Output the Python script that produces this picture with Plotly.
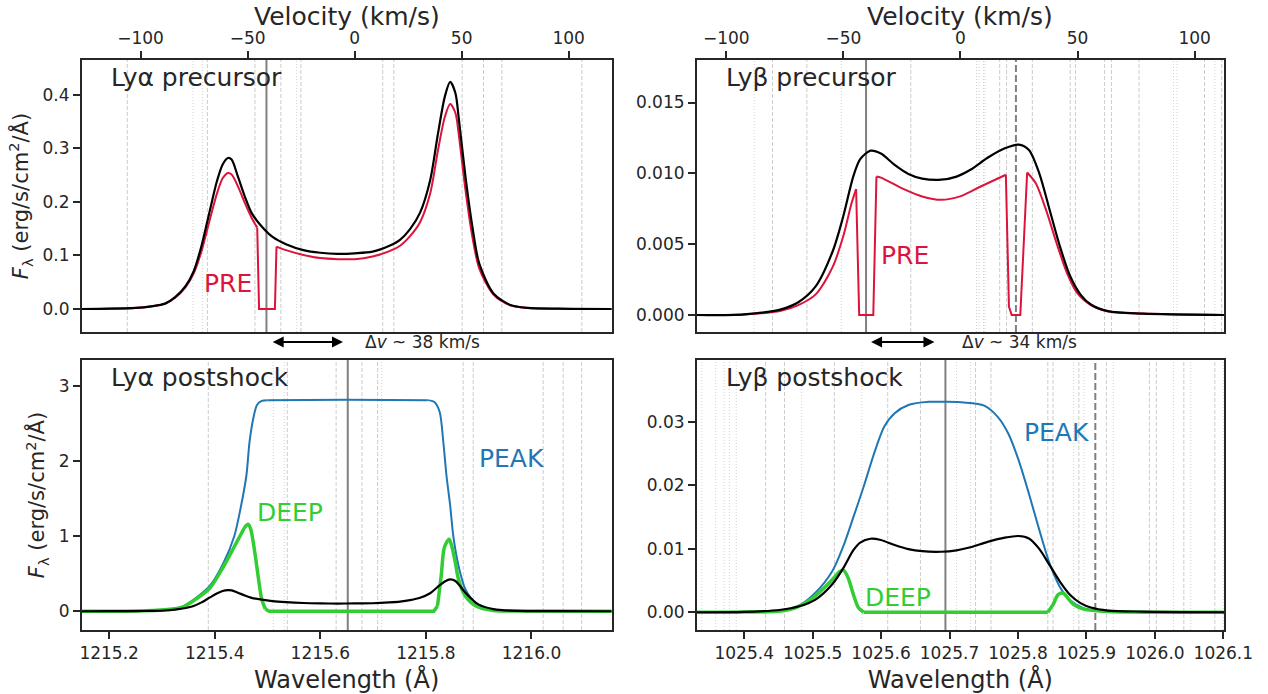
import plotly.graph_objects as go

C_KMS = 299792.458
LYA_REST = 1215.665
LYB_REST = 1025.716
LYA_XRANGE = [1215.148, 1216.152]
LYB_XRANGE = [1025.3306, 1026.101]

# ---- Lyα profiles -------------------------------------------------------
lya_total_wl = [1215.148, 1215.20, 1215.25, 1215.28, 1215.306, 1215.325, 1215.345, 1215.360,
                1215.375, 1215.391, 1215.404, 1215.415, 1215.425, 1215.432, 1215.444, 1215.457,
                1215.470, 1215.489, 1215.509, 1215.535, 1215.568, 1215.600, 1215.633, 1215.665,
                1215.699, 1215.731, 1215.751, 1215.770, 1215.789, 1215.808, 1215.823, 1215.836,
                1215.846, 1215.856, 1215.862, 1215.875, 1215.888, 1215.901, 1215.928, 1215.960,
                1215.993, 1216.05, 1216.152]
lya_total_flux = [0.0, 0.0005, 0.002, 0.005, 0.010, 0.022, 0.043, 0.070, 0.118, 0.185, 0.238,
                  0.270, 0.282, 0.279, 0.247, 0.210, 0.179, 0.154, 0.135, 0.121, 0.110, 0.105,
                  0.103, 0.104, 0.107, 0.118, 0.129, 0.149, 0.180, 0.240, 0.328, 0.397, 0.424,
                  0.403, 0.359, 0.247, 0.154, 0.085, 0.029, 0.0075, 0.002, 0.0005, 0.0]

lya_pre_wl = [1215.148, 1215.20, 1215.25, 1215.28, 1215.306, 1215.325, 1215.345, 1215.360,
              1215.375, 1215.391, 1215.404, 1215.415, 1215.425, 1215.432, 1215.444, 1215.457,
              1215.470, 1215.4805, 1215.4840, 1215.5140, 1215.5170, 1215.535, 1215.568, 1215.600,
              1215.633, 1215.665, 1215.699, 1215.731, 1215.751, 1215.770, 1215.789, 1215.808,
              1215.823, 1215.836, 1215.846, 1215.856, 1215.862, 1215.875, 1215.888, 1215.901,
              1215.928, 1215.960, 1215.993, 1216.05, 1216.152]
lya_pre_flux = [0.0, 0.0005, 0.002, 0.005, 0.010, 0.021, 0.041, 0.066, 0.108, 0.168, 0.215,
                0.244, 0.254, 0.251, 0.229, 0.198, 0.170, 0.152, 0.0, 0.0, 0.1165, 0.110, 0.101,
                0.095, 0.093, 0.093, 0.098, 0.108, 0.118, 0.136, 0.162, 0.215, 0.297, 0.359,
                0.383, 0.366, 0.328, 0.222, 0.135, 0.076, 0.027, 0.007, 0.002, 0.0005, 0.0]

lya_peak_wl = [1215.148, 1215.25, 1215.306, 1215.339, 1215.365, 1215.391, 1215.417, 1215.437,
               1215.450, 1215.460, 1215.466, 1215.473, 1215.480, 1215.489, 1215.500, 1215.650,
               1215.803, 1215.816, 1215.826, 1215.833, 1215.839, 1215.846, 1215.852, 1215.862,
               1215.875, 1215.895, 1215.928, 1215.98, 1216.152]
lya_peak_flux = [0.0, 0.003, 0.02, 0.06, 0.18, 0.34, 0.65, 1.0, 1.41, 1.81, 2.26, 2.57, 2.75,
                 2.805, 2.815, 2.82, 2.815, 2.79, 2.66, 2.26, 1.81, 1.41, 1.0, 0.60, 0.29, 0.11,
                 0.025, 0.004, 0.0]

lya_deep_wl = [1215.148, 1215.25, 1215.306, 1215.339, 1215.365, 1215.391, 1215.417, 1215.437,
               1215.450, 1215.457, 1215.463, 1215.468, 1215.476, 1215.483, 1215.489, 1215.496,
               1215.503, 1215.815, 1215.822, 1215.829, 1215.835, 1215.844, 1215.849, 1215.856,
               1215.862, 1215.875, 1215.895, 1215.928, 1215.98, 1216.152]
lya_deep_flux = [0.0, 0.003, 0.02, 0.055, 0.165, 0.31, 0.60, 0.86, 1.03, 1.12, 1.16, 1.10, 0.78,
                 0.43, 0.16, 0.03, 0.0, 0.0, 0.07, 0.47, 0.85, 0.96, 0.87, 0.64, 0.42, 0.20, 0.07,
                 0.01, 0.002, 0.0]

# ---- Lyβ profiles -------------------------------------------------------
lyb_total_wl = [1025.3306, 1025.40, 1025.4538, 1025.4790, 1025.5041, 1025.5293, 1025.5444,
                1025.5595, 1025.5695, 1025.5846, 1025.5997, 1025.6198, 1025.6399, 1025.6600,
                1025.6877, 1025.7103, 1025.7305, 1025.7556, 1025.7808, 1025.8009, 1025.8160,
                1025.8311, 1025.8462, 1025.8612, 1025.8763, 1025.8914, 1025.9065, 1025.9316,
                1025.9819, 1026.101]
lyb_total_flux = [0.0, 0.00005, 0.0004, 0.0009, 0.0020, 0.0045, 0.0069, 0.0098, 0.0110, 0.0116,
                  0.0114, 0.0106, 0.00996, 0.00963, 0.00955, 0.00977, 0.01025, 0.0111, 0.01177,
                  0.01203, 0.01165, 0.0100, 0.00743, 0.00485, 0.00273, 0.00144, 0.00074,
                  0.00027, 0.0001, 0.0]

lyb_pre_wl = [1025.3306, 1025.40, 1025.4538, 1025.4790, 1025.5041, 1025.5293, 1025.5444,
              1025.5569, 1025.5635, 1025.5680, 1025.5886, 1025.5932, 1025.5997, 1025.6299,
              1025.6600, 1025.6877, 1025.7154, 1025.7455, 1025.7823, 1025.7868, 1025.7908,
              1025.8034, 1025.8134, 1025.8260, 1025.8411, 1025.8562, 1025.8713, 1025.8864,
              1025.9065, 1025.9316, 1025.9819, 1026.101]
lyb_pre_flux = [0.0, 0.00004, 0.0003, 0.0007, 0.00144, 0.0034, 0.0055, 0.0079, 0.00889, 0.0,
                0.0, 0.00977, 0.0097, 0.00896, 0.00837, 0.00813, 0.00837, 0.00907, 0.0099,
                0.0006, 0.0, 0.0, 0.01006, 0.0093, 0.0074, 0.0051, 0.0030, 0.00156, 0.0007,
                0.00025, 0.0001, 0.0]

lyb_peak_wl = [1025.3306, 1025.40, 1025.4538, 1025.4790, 1025.5041, 1025.5293, 1025.5444,
               1025.5595, 1025.5745, 1025.5896, 1025.6047, 1025.6198, 1025.6399, 1025.6701,
               1025.6952, 1025.7204, 1025.7506, 1025.7707, 1025.7858, 1025.8009, 1025.8160,
               1025.8311, 1025.8462, 1025.8612, 1025.8763, 1025.8964, 1025.9316, 1025.98,
               1026.101]
lyb_peak_flux = [0.0, 0.00003, 0.0002, 0.001, 0.0031, 0.0066, 0.0103, 0.0150, 0.0198, 0.0250,
                 0.0293, 0.0314, 0.0327, 0.0332, 0.0332, 0.0331, 0.0326, 0.0308, 0.0282, 0.0240,
                 0.0187, 0.0130, 0.0077, 0.0040, 0.0019, 0.0006, 0.0001, 0.00002, 0.0]

lyb_deep_wl = [1025.3306, 1025.40, 1025.4538, 1025.4790, 1025.5041, 1025.5293, 1025.5393,
               1025.5453, 1025.5519, 1025.5595, 1025.5670, 1025.5745, 1025.8436, 1025.8512,
               1025.8587, 1025.8663, 1025.8738, 1025.8814, 1025.8964, 1025.9316, 1025.98,
               1026.101]
lyb_deep_flux = [0.0, 0.00003, 0.0002, 0.0009, 0.0026, 0.0052, 0.0064, 0.0066, 0.0054, 0.0028,
                 0.0007, 0.0, 0.0, 0.0012, 0.0028, 0.0030, 0.0021, 0.0012, 0.0005, 0.0001,
                 0.00002, 0.0]

# ---- reference line positions (Å) ---------------------------------------
lya_pre_dashed = [1215.2344, 1215.3861, 1215.4762, 1215.5253, 1215.5633, 1215.7183, 1215.7393,
                  1215.8687, 1215.9092, 1215.9439, 1216.0955]
lya_pre_dotted = [1215.3586, 1215.3770, 1215.5548]
lya_post_dashed = [1215.3878, 1215.5374, 1215.6300, 1215.6789, 1215.7086, 1215.8707, 1215.8897,
                   1216.0222, 1216.0601, 1216.0950]
lya_post_dotted = [1215.5109, 1215.5317, 1215.7162]
lyb_pre_dashed = [1025.4413, 1025.4916, 1025.6434, 1025.7733, 1025.7833, 1025.8210, 1025.8763,
                  1025.8839, 1025.9266, 1025.9367, 1025.9769, 1026.0725, 1026.0976]
lyb_pre_dotted = [1025.4146, 1025.5418, 1025.7395, 1025.7430, 1025.7496, 1025.7516, 1026.0272,
                  1026.0323, 1026.0876]
lyb_post_dashed = [1025.4312, 1025.4589, 1025.5318, 1025.6097, 1025.6575, 1025.7380, 1025.7606,
                   1025.8436, 1025.8512, 1025.8889, 1025.9292, 1025.9920, 1026.0021, 1026.0423,
                   1026.0876]
lyb_post_dotted = [1025.3381, 1025.3583, 1025.3708, 1025.3784, 1025.3884, 1025.4840, 1025.5720,
                   1025.7103, 1025.7305, 1025.8814, 1025.8964, 1025.9392, 1026.0272, 1026.0524,
                   1026.1001]

lya_pre_marker = 1215.498
lyb_pre_marker = 1025.578
lyb_pre_dashmark = 1025.797
lya_post_marker = 1215.652
lyb_post_marker = 1025.694
lyb_post_dashmark = 1025.913

lya_arrow = [1215.507, 1215.643]
lyb_arrow = [1025.5832, 1025.6779]

vel_ticks = [-100, -50, 0, 50, 100]
vel_ticktext = ["\u2212100", "\u221250", "0", "50", "100"]

BLACK = "#000000"
RED = "#dc143c"
BLUE = "#1f77b4"
GREEN = "#32cd32"
INK = "#262626"
FONT = "DejaVu Sans"


def to_vel(wl_range, rest):
    return [(w - rest) / rest * C_KMS for w in wl_range]


fig = go.Figure()


def add_profile(xs, ys, color, width, xa, ya, straight=()):
    """Draw a profile as smooth pieces; index spans in `straight` are drawn as plain segments."""
    cuts = sorted(set([0, len(xs) - 1] + [i for span in straight for i in span]))
    for a, b in zip(cuts[:-1], cuts[1:]):
        shape = "linear" if (a, b) in straight else "spline"
        fig.add_trace(go.Scatter(x=xs[a:b + 1], y=ys[a:b + 1], mode="lines",
                                 line=dict(color=color, width=width, shape=shape, smoothing=0.8),
                                 xaxis=xa, yaxis=ya, showlegend=False, hoverinfo="skip"))


# top left: Lyα precursor
add_profile(lya_pre_wl, lya_pre_flux, RED, 2, "x", "y", straight=[(17, 20)])
add_profile(lya_total_wl, lya_total_flux, BLACK, 2.2, "x", "y")
# top right: Lyβ precursor
add_profile(lyb_pre_wl, lyb_pre_flux, RED, 2, "x2", "y2", straight=[(8, 11), (18, 22)])
add_profile(lyb_total_wl, lyb_total_flux, BLACK, 2.2, "x2", "y2")
# bottom left: Lyα postshock
add_profile(lya_peak_wl, lya_peak_flux, BLUE, 2, "x3", "y3", straight=[(14, 16)])
add_profile(lya_deep_wl, lya_deep_flux, GREEN, 3.5, "x3", "y3", straight=[(15, 18)])
add_profile(lya_total_wl, lya_total_flux, BLACK, 2.2, "x3", "y3")
# bottom right: Lyβ postshock
add_profile(lyb_peak_wl, lyb_peak_flux, BLUE, 2, "x4", "y4")
add_profile(lyb_deep_wl, lyb_deep_flux, GREEN, 3.5, "x4", "y4", straight=[(11, 12)])
add_profile(lyb_total_wl, lyb_total_flux, BLACK, 2.2, "x4", "y4")

# invisible carriers for the velocity axes
lya_vrange = to_vel(LYA_XRANGE, LYA_REST)
lyb_vrange = to_vel(LYB_XRANGE, LYB_REST)
fig.add_trace(go.Scatter(x=lya_vrange, y=[0, 0], mode="lines", line=dict(width=0),
                         opacity=0, xaxis="x5", yaxis="y", showlegend=False, hoverinfo="skip"))
fig.add_trace(go.Scatter(x=lyb_vrange, y=[0, 0], mode="lines", line=dict(width=0),
                         opacity=0, xaxis="x6", yaxis="y2", showlegend=False, hoverinfo="skip"))

shapes = []


def vlines(xs, xref, yref, color, width, dash):
    for xv in xs:
        shapes.append(dict(type="line", xref=xref, yref=yref + " domain", x0=xv, x1=xv,
                           y0=0, y1=1, layer="below",
                           line=dict(color=color, width=width, dash=dash)))


vlines(lya_pre_dashed, "x", "y", "#cccccc", 1, "4px,2px")
vlines(lya_pre_dotted, "x", "y", "#d2d2d2", 1, "1px,2px")
vlines(lyb_pre_dashed, "x2", "y2", "#cccccc", 1, "4px,2px")
vlines(lyb_pre_dotted, "x2", "y2", "#d2d2d2", 1, "1px,2px")
vlines(lya_post_dashed, "x3", "y3", "#cccccc", 1, "4px,2px")
vlines(lya_post_dotted, "x3", "y3", "#d2d2d2", 1, "1px,2px")
vlines(lyb_post_dashed, "x4", "y4", "#cccccc", 1, "4px,2px")
vlines(lyb_post_dotted, "x4", "y4", "#d2d2d2", 1, "1px,2px")

vlines([lya_pre_marker], "x", "y", "#808080", 2, "solid")
vlines([lyb_pre_marker], "x2", "y2", "#808080", 2, "solid")
vlines([lyb_pre_dashmark], "x2", "y2", "#808080", 2, "7px,3px")
vlines([lya_post_marker], "x3", "y3", "#808080", 2, "solid")
vlines([lyb_post_marker], "x4", "y4", "#808080", 2, "solid")
vlines([lyb_post_dashmark], "x4", "y4", "#808080", 2, "7px,3px")

tickfont = dict(family=FONT, size=17, color=INK)
titlefont = dict(family=FONT, size=25, color=INK)
wltitlefont = dict(family=FONT, size=24, color=INK)
ytitlefont = dict(family=FONT, size=21, color=INK)
frame = dict(showline=True, linecolor=INK, linewidth=1.5, mirror=True, showgrid=False,
             zeroline=False, ticks="outside", ticklen=7, tickwidth=1.5, tickcolor=INK,
             tickfont=tickfont, automargin=False)

XL = [0.06443, 0.48241]
XR = [0.54945, 0.96530]
YT = [0.52161, 0.91354]
YB = [0.09222, 0.48127]

ylab = "<i>F</i><sub>λ</sub> (erg/s/cm<sup>2</sup>/Å)"

fig.update_layout(
    width=1268, height=694, autosize=False,
    margin=dict(l=0, r=0, t=0, b=0, pad=0),
    paper_bgcolor="white", plot_bgcolor="white",
    font=dict(family=FONT, color=INK),
    shapes=shapes,
    xaxis=dict(frame, domain=XL, anchor="y", range=LYA_XRANGE, ticks="", showticklabels=False),
    xaxis2=dict(frame, domain=XR, anchor="y2", range=LYB_XRANGE, ticks="", showticklabels=False),
    xaxis3=dict(frame, domain=XL, anchor="y3", range=LYA_XRANGE,
                tickvals=[1215.2, 1215.4, 1215.6, 1215.8, 1216.0], tickformat=".1f",
                title=dict(text="Wavelength (Å)", font=wltitlefont, standoff=11)),
    xaxis4=dict(frame, domain=XR, anchor="y4", range=LYB_XRANGE,
                tickvals=[1025.4, 1025.5, 1025.6, 1025.7, 1025.8, 1025.9, 1026.0, 1026.1],
                tickformat=".1f", title=dict(text="Wavelength (Å)", font=wltitlefont, standoff=11)),
    xaxis5=dict(frame, overlaying="x", side="top", anchor="y", range=lya_vrange,
                tickvals=vel_ticks, ticktext=vel_ticktext),
    xaxis6=dict(frame, overlaying="x2", side="top", anchor="y2", range=lyb_vrange,
                tickvals=vel_ticks, ticktext=vel_ticktext),
    yaxis=dict(frame, domain=YT, anchor="x", range=[-0.043, 0.465],
               tickvals=[0, 0.1, 0.2, 0.3, 0.4], tickformat=".1f",
               title=dict(text=ylab, font=ytitlefont, standoff=8)),
    yaxis2=dict(frame, domain=YT, anchor="x2", range=[-0.0012, 0.018],
                tickvals=[0, 0.005, 0.010, 0.015], tickformat=".3f"),
    yaxis3=dict(frame, domain=YB, anchor="x3", range=[-0.25, 3.35],
                tickvals=[0, 1, 2, 3], tickformat="d",
                title=dict(text=ylab, font=ytitlefont, standoff=8)),
    yaxis4=dict(frame, domain=YB, anchor="x4", range=[-0.0028, 0.0398],
                tickvals=[0, 0.01, 0.02, 0.03], tickformat=".2f"),
)

annotations = []

# velocity axis titles above the top panels
for dom in (XL, XR):
    annotations.append(dict(text="Velocity (km/s)", xref="paper", yref="paper",
                            x=(dom[0] + dom[1]) / 2, y=1 - 17 / 694, xanchor="center",
                            yanchor="middle", showarrow=False, font=titlefont))


def panel_label(text, xref, yref):
    annotations.append(dict(text=text, xref=xref + " domain", yref=yref + " domain",
                            x=0.052, y=0.934, xanchor="left", yanchor="middle",
                            showarrow=False, font=dict(family=FONT, size=25, color=INK)))


panel_label("Lyα precursor", "x", "y")
panel_label("Lyβ precursor", "x2", "y2")
panel_label("Lyα postshock", "x3", "y3")
panel_label("Lyβ postshock", "x4", "y4")


def tag(text, x, y, xref, yref, color):
    annotations.append(dict(text=text, x=x, y=y, xref=xref, yref=yref, showarrow=False,
                            xanchor="center", yanchor="middle",
                            font=dict(family=FONT, size=25, color=color)))


tag("PRE", 1215.425, 0.047, "x", "y", RED)
tag("PRE", 1025.635, 0.0042, "x2", "y2", RED)
tag("PEAK", 1215.963, 2.04, "x3", "y3", BLUE)
tag("DEEP", 1215.543, 1.31, "x3", "y3", GREEN)
tag("PEAK", 1025.856, 0.0284, "x4", "y4", BLUE)
tag("DEEP", 1025.625, 0.0024, "x4", "y4", GREEN)

arrow_y = 1 - 342 / 694
for xa, (lo, hi) in [("x", lya_arrow), ("x2", lyb_arrow)]:
    annotations.append(dict(x=hi, y=arrow_y, xref=xa, yref="paper", ax=lo, ay=0, axref=xa,
                            ayref="pixel", showarrow=True, arrowhead=2, arrowside="end+start",
                            arrowsize=1.1, arrowwidth=2, arrowcolor=BLACK, text=""))

annotations.append(dict(text="Δ<i>v</i> ~ 38 km/s", x=362.6 / 1268, y=arrow_y, xref="paper",
                        yref="paper", xanchor="left", yanchor="middle", showarrow=False,
                        font=dict(family=FONT, size=17, color=INK)))
annotations.append(dict(text="Δ<i>v</i> ~ 34 km/s", x=960 / 1268, y=arrow_y, xref="paper",
                        yref="paper", xanchor="left", yanchor="middle", showarrow=False,
                        font=dict(family=FONT, size=17, color=INK)))

fig.update_layout(annotations=annotations)

fig.write_html("out.html", config={"responsive": False})
